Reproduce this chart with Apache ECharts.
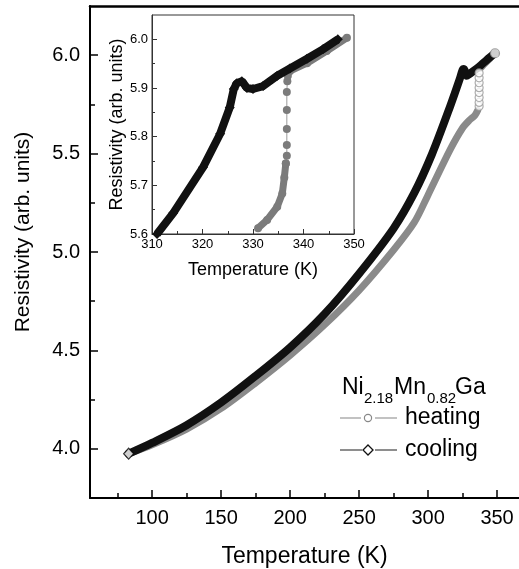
<!DOCTYPE html>
<html>
<head>
<meta charset="utf-8">
<script src="https://cdn.jsdelivr.net/npm/echarts@6/dist/echarts.min.js"></script>
<style>
html,body{margin:0;padding:0;background:#fff;}
#c{width:519px;height:569px;}
</style>
</head>
<body>
<div id="c"></div>
<script>
// ---- Main panel data ----
const mainHeatT = [83, 100, 125, 150, 175, 200, 225, 250, 275, 290, 300, 316, 325, 330, 334, 336];
const mainHeatR = [3.975, 4.02, 4.10, 4.205, 4.335, 4.475, 4.63, 4.805, 5.01, 5.15, 5.29, 5.52, 5.63, 5.67, 5.695, 5.72];
const mainHeatJumpT = [337, 337, 337, 337, 337, 337, 337, 337];
const mainHeatJumpR = [5.74, 5.76, 5.785, 5.81, 5.835, 5.86, 5.885, 5.91];
const mainHeatHighT = [338, 340, 345, 348.5];
const mainHeatHighR = [5.935, 5.95, 5.985, 6.01];
const mainCoolT = [348.5, 345, 340, 335, 330, 328, 326, 325, 323, 316, 303, 290, 275, 250, 225, 200, 175, 150, 125, 100, 83];
const mainCoolR = [6.01, 5.99, 5.96, 5.93, 5.905, 5.895, 5.93, 5.925, 5.88, 5.74, 5.50, 5.30, 5.12, 4.89, 4.685, 4.515, 4.37, 4.235, 4.12, 4.03, 3.975];

// ---- Inset data ----
const insetHeatLowT = [331, 332.8, 334.8, 335.8, 336.2, 336.5];
const insetHeatLowR = [5.612, 5.629, 5.656, 5.683, 5.716, 5.745];
const insetHeatJumpT = [336.7, 336.7, 336.7, 336.7, 336.7, 336.8, 336.9];
const insetHeatJumpR = [5.761, 5.783, 5.816, 5.855, 5.892, 5.914, 5.925];
const insetHeatHighT = [337.3, 340.7, 344.6, 348.6];
const insetHeatHighR = [5.935, 5.951, 5.976, 6.003];
const insetCoolT = [346.8, 343.9, 340.7, 337.3, 334.8, 332, 330, 328.8, 327.8, 326.8, 326.2, 325.4, 323.5, 320.1, 314.2, 311];
const insetCoolR = [6.0, 5.98, 5.96, 5.94, 5.925, 5.904, 5.898, 5.90, 5.914, 5.91, 5.898, 5.86, 5.806, 5.737, 5.643, 5.6];

// ---- Tick labels ----
const mainXMajor = [100, 150, 200, 250, 300, 350];
const mainXMinor = [75, 125, 175, 225, 275, 325];
const mainYMajor = [4.0, 4.5, 5.0, 5.5, 6.0];
const mainYMinor = [4.25, 4.75, 5.25, 5.75];
const insetXMajor = [310, 320, 330, 340, 350];
const insetXMinor = [315, 325, 335, 345];
const insetYMajor = [5.6, 5.7, 5.8, 5.9, 6.0];
const insetYMinor = [5.65, 5.75, 5.85, 5.95];

const zip = (a, b) => a.map((v, i) => [v, b[i]]);
const FONT = 'Liberation Sans, Arial, Helvetica, sans-serif';
const HEAT = '#8a8a8a';
const HEAT_IN = '#7b7b7b';
const COOL = '#111111';
const X_MIN = 55, X_MAX = 365.9;

function axis(gridIndex, min, max, major, minor, opts) {
  const isMinor = !!opts.minor;
  return Object.assign({
    type: 'value', gridIndex, min, max,
    position: opts.pos,
    axisLine: { show: !isMinor, lineStyle: { color: opts.lineColor, width: opts.lineWidth } },
    axisTick: { show: true, inside: true, length: isMinor ? opts.minLen : opts.majLen,
      customValues: isMinor ? minor : major,
      lineStyle: { color: opts.lineColor, width: opts.tickWidth } },
    axisLabel: isMinor ? { show: false } : {
      show: true, customValues: major, fontSize: opts.fontSize, fontFamily: FONT, color: '#000',
      margin: opts.margin, formatter: opts.fmt },
    splitLine: { show: false }
  }, opts.extra || {});
}

const chart = echarts.init(document.getElementById('c'), null, { renderer: 'canvas' });
chart.setOption({
  animation: false,
  backgroundColor: '#fff',
  grid: [
    { left: 90, top: 6, right: 0, bottom: 71, show: false, containLabel: false, outerBoundsMode: 'none' },
    { left: 152, top: 15, width: 202, height: 219, show: true, borderColor: '#333', borderWidth: 1, backgroundColor: '#fff', containLabel: false, outerBoundsMode: 'none' }
  ],
  xAxis: [
    axis(0, X_MIN, X_MAX, mainXMajor, mainXMinor, { pos: 'bottom', lineColor: '#000', lineWidth: 2, tickWidth: 1.5, majLen: 8, fontSize: 20, margin: 10,
      fmt: v => String(v),
      extra: { name: 'Temperature (K)', nameLocation: 'middle', nameGap: 47, nameTextStyle: { fontSize: 23, fontFamily: FONT, color: '#000' } } }),
    axis(0, X_MIN, X_MAX, mainXMajor, mainXMinor, { minor: true, pos: 'bottom', lineColor: '#000', lineWidth: 2, tickWidth: 1.5, minLen: 5 }),
    axis(1, 310, 350, insetXMajor, insetXMinor, { pos: 'bottom', lineColor: '#333', lineWidth: 1, tickWidth: 1, majLen: 5, fontSize: 13, margin: 4,
      fmt: v => String(v),
      extra: { name: 'Temperature (K)', nameLocation: 'middle', nameGap: 27, nameTextStyle: { fontSize: 18, fontFamily: FONT, color: '#000' } } }),
    axis(1, 310, 350, insetXMajor, insetXMinor, { minor: true, pos: 'bottom', lineColor: '#333', lineWidth: 1, tickWidth: 1, minLen: 3 }),
    { type: 'value', gridIndex: 0, min: X_MIN, max: X_MAX, position: 'top',
      axisLine: { show: true, lineStyle: { color: '#000', width: 2.5 } }, axisTick: { show: false }, axisLabel: { show: false }, splitLine: { show: false } }
  ],
  yAxis: [
    axis(0, 3.75, 6.25, mainYMajor, mainYMinor, { pos: 'left', lineColor: '#000', lineWidth: 2, tickWidth: 1.5, majLen: 8, fontSize: 20, margin: 10,
      fmt: v => v.toFixed(1) }),
    axis(0, 3.75, 6.25, mainYMajor, mainYMinor, { minor: true, pos: 'left', lineColor: '#000', lineWidth: 2, tickWidth: 1.5, minLen: 5 }),
    axis(1, 5.6, 6.05, insetYMajor, insetYMinor, { pos: 'left', lineColor: '#333', lineWidth: 1, tickWidth: 1, majLen: 5, fontSize: 13, margin: 4,
      fmt: v => v.toFixed(1),
      extra: { name: 'Resistivity (arb. units)', nameLocation: 'middle', nameGap: 26, nameTextStyle: { fontSize: 18, fontFamily: FONT, color: '#000' } } }),
    axis(1, 5.6, 6.05, insetYMajor, insetYMinor, { minor: true, pos: 'left', lineColor: '#333', lineWidth: 1, tickWidth: 1, minLen: 3 })
  ],
  series: [
    // main panel
    { name: 'heating', type: 'line', xAxisIndex: 0, yAxisIndex: 0, data: zip(mainHeatT, mainHeatR), symbol: 'none', smooth: 0.3,
      lineStyle: { color: HEAT, width: 7, cap: 'round', join: 'round' }, z: 2 },
    { name: 'heating-high', type: 'line', xAxisIndex: 0, yAxisIndex: 0, data: zip(mainHeatHighT, mainHeatHighR), symbol: 'none',
      lineStyle: { color: HEAT, width: 7, cap: 'round' }, z: 2 },
    { name: 'cooling', type: 'line', xAxisIndex: 0, yAxisIndex: 0, data: zip(mainCoolT, mainCoolR), symbol: 'none', smooth: 0.3,
      lineStyle: { color: COOL, width: 8, cap: 'round', join: 'round' }, z: 3 },
    { name: 'heating-jump', type: 'scatter', xAxisIndex: 0, yAxisIndex: 0, data: zip(mainHeatJumpT, mainHeatJumpR), symbol: 'circle', symbolSize: 8,
      itemStyle: { color: '#fff', borderColor: '#999', borderWidth: 1.2 }, z: 4 },
    { name: 'heating-end', type: 'scatter', xAxisIndex: 0, yAxisIndex: 0,
      data: [[mainHeatHighT[mainHeatHighT.length - 1], mainHeatHighR[mainHeatHighR.length - 1]]],
      symbol: 'circle', symbolSize: 9, itemStyle: { color: '#fff', borderColor: '#888', borderWidth: 1.2 }, z: 5 },
    { name: 'cooling-end', type: 'scatter', xAxisIndex: 0, yAxisIndex: 0,
      data: [[mainCoolT[mainCoolT.length - 1], mainCoolR[mainCoolR.length - 1]]],
      symbol: 'diamond', symbolSize: [10, 11], itemStyle: { color: '#fff', borderColor: '#000', borderWidth: 1.2 }, z: 5 },
    // inset
    { type: 'line', xAxisIndex: 2, yAxisIndex: 2, data: zip(insetHeatLowT, insetHeatLowR), symbol: 'circle', symbolSize: 8,
      itemStyle: { color: HEAT_IN }, lineStyle: { color: HEAT_IN, width: 7 }, z: 6 },
    { type: 'line', xAxisIndex: 2, yAxisIndex: 2,
      data: [[insetHeatLowT[insetHeatLowT.length - 1], insetHeatLowR[insetHeatLowR.length - 1]]].concat(zip(insetHeatJumpT, insetHeatJumpR)).concat([[insetHeatHighT[0], insetHeatHighR[0]]]),
      symbol: 'circle', symbolSize: 8, itemStyle: { color: HEAT_IN }, lineStyle: { color: '#9a9a9a', width: 1 }, z: 6 },
    { type: 'line', xAxisIndex: 2, yAxisIndex: 2, data: zip(insetHeatHighT, insetHeatHighR), symbol: 'circle', symbolSize: 8,
      itemStyle: { color: HEAT_IN }, lineStyle: { color: HEAT_IN, width: 7 }, z: 6 },
    { type: 'line', xAxisIndex: 2, yAxisIndex: 2, data: zip(insetCoolT, insetCoolR), symbol: 'diamond', symbolSize: 10,
      itemStyle: { color: COOL }, lineStyle: { color: COOL, width: 8 }, z: 7 }
  ],
  graphic: [
    { type: 'text', x: 23, y: 232, rotation: Math.PI / 2, z: 10,
      style: { text: 'Resistivity (arb. units)', font: '21px ' + FONT, fill: '#000', align: 'center', verticalAlign: 'middle' } },
    // legend title with subscripts
    { type: 'text', x: 342, y: 399, style: { text: 'Ni', font: '23px ' + FONT, fill: '#000', align: 'left', verticalAlign: 'bottom' } },
    { type: 'text', x: 364, y: 406, style: { text: '2.18', font: '15px ' + FONT, fill: '#000', align: 'left', verticalAlign: 'bottom' } },
    { type: 'text', x: 394, y: 399, style: { text: 'Mn', font: '23px ' + FONT, fill: '#000', align: 'left', verticalAlign: 'bottom' } },
    { type: 'text', x: 427, y: 406, style: { text: '0.82', font: '15px ' + FONT, fill: '#000', align: 'left', verticalAlign: 'bottom' } },
    { type: 'text', x: 455, y: 399, style: { text: 'Ga', font: '23px ' + FONT, fill: '#000', align: 'left', verticalAlign: 'bottom' } },
    // heating legend
    { type: 'line', shape: { x1: 340, y1: 418, x2: 361, y2: 418 }, style: { stroke: '#999', lineWidth: 1.2 } },
    { type: 'circle', shape: { cx: 368, cy: 418, r: 3.6 }, style: { stroke: '#888', fill: '#fff', lineWidth: 1.2 } },
    { type: 'line', shape: { x1: 375, y1: 418, x2: 397, y2: 418 }, style: { stroke: '#999', lineWidth: 1.2 } },
    { type: 'text', x: 405, y: 418, style: { text: 'heating', font: '23px ' + FONT, fill: '#000', align: 'left', verticalAlign: 'middle' } },
    // cooling legend
    { type: 'line', shape: { x1: 340, y1: 450, x2: 362, y2: 450 }, style: { stroke: '#444', lineWidth: 1.2 } },
    { type: 'polygon', shape: { points: [[368, 445], [373, 450], [368, 455], [363, 450]] }, style: { stroke: '#111', fill: '#fff', lineWidth: 1.3 } },
    { type: 'line', shape: { x1: 375, y1: 450, x2: 397, y2: 450 }, style: { stroke: '#444', lineWidth: 1.2 } },
    { type: 'text', x: 405, y: 450, style: { text: 'cooling', font: '23px ' + FONT, fill: '#000', align: 'left', verticalAlign: 'middle' } }
  ]
});
</script>
</body>
</html>
